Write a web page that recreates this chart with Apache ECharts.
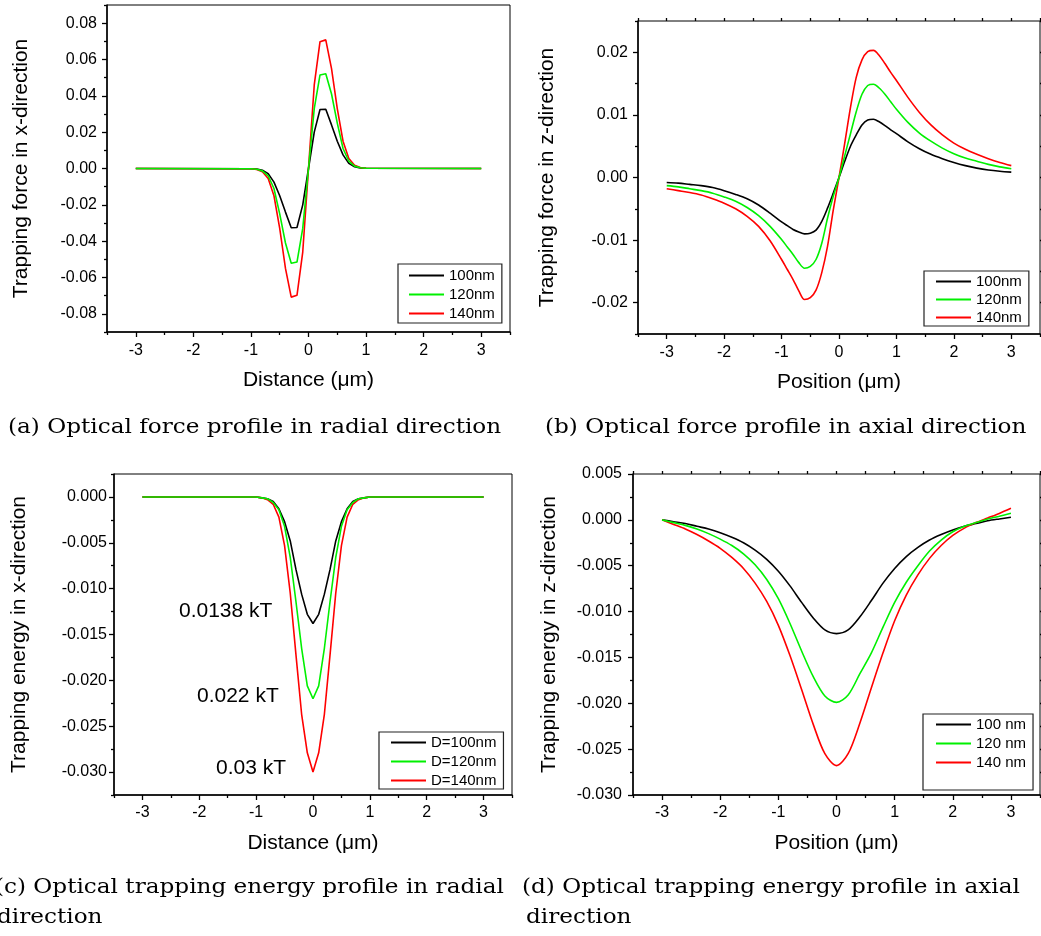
<!DOCTYPE html>
<html>
<head>
<meta charset="utf-8">
<script src="https://cdn.jsdelivr.net/npm/echarts@6/dist/echarts.min.js"></script>
<style>
  html, body { margin: 0; padding: 0; background: #fff; }
  #chart { width: 1041px; height: 936px; }
</style>
</head>
<body>
<div id="chart"></div>
<script>
// ---------- data ----------
// radial profiles, sampled every 0.1 um inside |x| <= 1 (zero outside)
const xRadial = [-3, -1.0, -0.9, -0.8, -0.7, -0.6, -0.5, -0.4, -0.3, -0.2, -0.1, 0,
                 0.1, 0.2, 0.3, 0.4, 0.5, 0.6, 0.7, 0.8, 0.9, 1.0, 3];

const forceX100 = [0, -0.0001, -0.0003, -0.0010, -0.0028, -0.0075, -0.015, -0.024, -0.0326, -0.0325, -0.020, 0,
                   0.020, 0.0325, 0.0326, 0.024, 0.015, 0.0075, 0.0028, 0.0010, 0.0003, 0.0001, 0];
const forceX120 = [0, -0.0001, -0.0004, -0.0013, -0.004, -0.011, -0.025, -0.041, -0.0522, -0.0515, -0.033, 0,
                   0.033, 0.0515, 0.0522, 0.041, 0.025, 0.011, 0.004, 0.0013, 0.0004, 0.0001, 0];
const forceX140 = [0, -0.0001, -0.0005, -0.0018, -0.0055, -0.015, -0.033, -0.055, -0.0708, -0.0698, -0.046, 0,
                   0.046, 0.0698, 0.0708, 0.055, 0.033, 0.015, 0.0055, 0.0018, 0.0005, 0.0001, 0];

const energyX100 = [0, 0, -0.0001, -0.0002, -0.0005, -0.0013, -0.0027, -0.0048, -0.0079, -0.0106, -0.0128, -0.0138,
                    -0.0128, -0.0106, -0.0079, -0.0048, -0.0027, -0.0013, -0.0005, -0.0002, -0.0001, 0, 0];
const energyX120 = [0, 0, -0.0001, -0.0002, -0.0006, -0.0014, -0.0032, -0.0066, -0.0114, -0.0165, -0.0206, -0.022,
                    -0.0206, -0.0165, -0.0114, -0.0066, -0.0032, -0.0014, -0.0006, -0.0002, -0.0001, 0, 0];
const energyX140 = [0, 0, -0.0001, -0.0003, -0.0008, -0.0022, -0.0053, -0.0105, -0.0172, -0.0237, -0.0279, -0.030,
                    -0.0279, -0.0237, -0.0172, -0.0105, -0.0053, -0.0022, -0.0008, -0.0003, -0.0001, 0, 0];

// axial force, 0.2 um steps in the tails and 0.1 um steps around the focus
const xAxialForce = [-3.0, -2.8, -2.6, -2.4, -2.2, -2.0, -1.8, -1.6, -1.4, -1.2,
                     -1.0, -0.9, -0.8, -0.7, -0.6, -0.5, -0.4, -0.3, -0.2, -0.1, 0,
                     0.1, 0.2, 0.3, 0.4, 0.5, 0.6, 0.7, 0.8, 0.9, 1.0,
                     1.2, 1.4, 1.6, 1.8, 2.0, 2.2, 2.4, 2.6, 2.8, 3.0];

const forceZ100 = [-0.0008, -0.0009, -0.0011, -0.0013, -0.0016, -0.0021, -0.0027, -0.0034, -0.0044, -0.0057,
                   -0.0071, -0.0077, -0.0083, -0.0087, -0.0090, -0.0089, -0.0084, -0.0070, -0.0049, -0.0025, 0,
                   0.0026, 0.0050, 0.0068, 0.0084, 0.0092, 0.0093, 0.0089, 0.0083, 0.0076, 0.0070,
                   0.0057, 0.0046, 0.0037, 0.0030, 0.0024, 0.0019, 0.0015, 0.0012, 0.0010, 0.00086];
const forceZ120 = [-0.0013, -0.0015, -0.0018, -0.0021, -0.0025, -0.0031, -0.0038, -0.0048, -0.0061, -0.0078,
                   -0.0099, -0.0111, -0.0123, -0.0136, -0.0145, -0.0142, -0.0131, -0.0105, -0.0065, -0.0030, 0,
                   0.0035, 0.0070, 0.0105, 0.0133, 0.0147, 0.0149, 0.0143, 0.0133, 0.0121, 0.0109,
                   0.0088, 0.0071, 0.0058, 0.0047, 0.0038, 0.0031, 0.0026, 0.0021, 0.0017, 0.0014];
const forceZ140 = [-0.0018, -0.0021, -0.0024, -0.0028, -0.0034, -0.0041, -0.0050, -0.0062, -0.0078, -0.0101,
                   -0.0131, -0.0147, -0.0163, -0.0181, -0.0195, -0.0192, -0.0180, -0.0152, -0.0110, -0.0052, 0,
                   0.0055, 0.0112, 0.0160, 0.0188, 0.0201, 0.0203, 0.0195, 0.0182, 0.0168, 0.0155,
                   0.0128, 0.0104, 0.0084, 0.0068, 0.0055, 0.0045, 0.0037, 0.0030, 0.0024, 0.0019];

// axial energy, 0.2 um steps
const xAxialEnergy = [-3.0, -2.8, -2.6, -2.4, -2.2, -2.0, -1.8, -1.6, -1.4, -1.2, -1.0, -0.8, -0.6, -0.4, -0.2, 0,
                      0.2, 0.4, 0.6, 0.8, 1.0, 1.2, 1.4, 1.6, 1.8, 2.0, 2.2, 2.4, 2.6, 2.8, 3.0];

const energyZ100 = [0, -0.0002, -0.0004, -0.0007, -0.0010, -0.0014, -0.0019, -0.0025, -0.0033, -0.0043, -0.0056, -0.0072, -0.0090, -0.0107, -0.0120, -0.0124,
                    -0.0120, -0.0106, -0.0088, -0.0069, -0.0053, -0.0040, -0.0030, -0.0022, -0.0016, -0.0011, -0.0007, -0.0004, -0.0001, 0.0001, 0.00028];
const energyZ120 = [0, -0.0003, -0.0006, -0.0010, -0.0015, -0.0021, -0.0028, -0.0037, -0.0049, -0.0065, -0.0086, -0.0113, -0.0143, -0.0171, -0.0192, -0.0199,
                    -0.0191, -0.0168, -0.0145, -0.0117, -0.0090, -0.0068, -0.0050, -0.0034, -0.0022, -0.0013, -0.0007, -0.0003, 0.0001, 0.0004, 0.00072];
const energyZ140 = [0, -0.0005, -0.0010, -0.0016, -0.0023, -0.0031, -0.0041, -0.0053, -0.0069, -0.0089, -0.0115, -0.0148, -0.0185, -0.0223, -0.0255, -0.0268,
                    -0.0255, -0.0222, -0.0183, -0.0145, -0.0110, -0.0082, -0.0060, -0.0042, -0.0028, -0.0017, -0.0009, -0.0003, 0.0002, 0.0007, 0.00126];

// tick positions
const xMajorTicks = [-3, -2, -1, 0, 1, 2, 3];
const xMinorTicks = [-3.5, -2.5, -1.5, -0.5, 0.5, 1.5, 2.5, 3.5];
const yMajorA = [-0.08, -0.06, -0.04, -0.02, 0, 0.02, 0.04, 0.06, 0.08];
const yMinorA = [-0.09, -0.07, -0.05, -0.03, -0.01, 0.01, 0.03, 0.05, 0.07, 0.09];
const yMajorB = [-0.02, -0.01, 0, 0.01, 0.02];
const yMinorB = [-0.025, -0.015, -0.005, 0.005, 0.015, 0.025];
const yMajorC = [-0.030, -0.025, -0.020, -0.015, -0.010, -0.005, 0];
const yMinorC = [-0.0325, -0.0275, -0.0225, -0.0175, -0.0125, -0.0075, -0.0025, 0.0025];
const yMajorD = [-0.030, -0.025, -0.020, -0.015, -0.010, -0.005, 0, 0.005];
const yMinorD = [-0.0275, -0.0225, -0.0175, -0.0125, -0.0075, -0.0025, 0.0025];

// ---------- styling ----------
const SANS = '"Liberation Sans", Arial, sans-serif';
const SERIF = '"DejaVu Serif", serif';
const COLORS = ['#000000', '#00f000', '#ff0000'];
const Z = [2, 4, 3];

const grids = [], xAxes = [], yAxes = [], series = [], legends = [];

function zip(xs, ys) { return xs.map((x, i) => [x, ys[i]]); }

function addPanel(p) {
  const g = grids.length;
  grids.push({
    left: p.box[0], top: p.box[1], width: p.box[2], height: p.box[3],
    show: true, borderColor: '#000', borderWidth: 1, backgroundColor: '#fff',
    outerBoundsMode: 'none', containLabel: false
  });
  const xi = xAxes.length, yi = yAxes.length;
  const lineStyle = { color: '#000', width: 1.5 };
  const tickStyle = { color: '#000', width: 1.3 };
  // main x axis with labels and long ticks
  xAxes.push({
    type: 'value', gridIndex: g, position: 'bottom', min: -3.5, max: 3.5, interval: 0.5,
    name: p.xName, nameLocation: 'middle', nameGap: p.xGap,
    nameTextStyle: { fontFamily: SANS, fontSize: 21, color: '#000' },
    axisLine: { show: true, onZero: false, lineStyle },
    axisTick: { show: true, inside: false, length: 5, customValues: xMajorTicks, lineStyle: tickStyle },
    axisLabel: { show: true, customValues: xMajorTicks, margin: p.xMargin, fontFamily: SANS, fontSize: 16, color: '#000',
                 formatter: v => String(v) },
    splitLine: { show: false }
  });
  // short half-step ticks
  xAxes.push({
    type: 'value', gridIndex: g, position: 'bottom', min: -3.5, max: 3.5, interval: 0.5,
    axisLine: { show: false, onZero: false },
    axisTick: { show: true, inside: false, length: 3, customValues: xMinorTicks, lineStyle: tickStyle },
    axisLabel: { show: false }, splitLine: { show: false }
  });
  yAxes.push({
    type: 'value', gridIndex: g, position: 'left', min: p.yMin, max: p.yMax, interval: p.yStep,
    name: p.yName, nameLocation: 'middle', nameGap: p.yGap,
    nameTextStyle: { fontFamily: SANS, fontSize: 21, color: '#000' },
    axisLine: { show: true, onZero: false, lineStyle },
    axisTick: { show: true, inside: false, length: 5, customValues: p.yMajor, lineStyle: tickStyle },
    axisLabel: { show: true, customValues: p.yMajor, margin: p.yMargin, fontFamily: SANS, fontSize: 16, color: '#000',
                 formatter: v => v.toFixed(p.digits) },
    splitLine: { show: false }
  });
  yAxes.push({
    type: 'value', gridIndex: g, position: 'left', min: p.yMin, max: p.yMax, interval: p.yStep,
    axisLine: { show: false, onZero: false },
    axisTick: { show: true, inside: false, length: 3, customValues: p.yMinor, lineStyle: tickStyle },
    axisLabel: { show: false }, splitLine: { show: false }
  });
  if (p.mirror) {
    xAxes.push({
      type: 'value', gridIndex: g, position: 'top', min: -3.5, max: 3.5, interval: 0.5,
      axisLine: { show: false, onZero: false },
      axisTick: { show: true, inside: false, length: 3, customValues: xMajorTicks.concat(xMinorTicks), lineStyle: tickStyle },
      axisLabel: { show: false }, splitLine: { show: false }
    });
    yAxes.push({
      type: 'value', gridIndex: g, position: 'right', min: p.yMin, max: p.yMax, interval: p.yStep,
      axisLine: { show: false, onZero: false },
      axisTick: { show: true, inside: false, length: 3, customValues: p.yMajor.concat(p.yMinor), lineStyle: tickStyle },
      axisLabel: { show: false }, splitLine: { show: false }
    });
  }
  p.curves.forEach((ys, k) => {
    series.push({
      type: 'line', name: p.names[k], xAxisIndex: xi, yAxisIndex: yi,
      data: zip(p.x, ys), symbol: 'none', showSymbol: false, smooth: p.smooth, z: Z[k],
      lineStyle: { color: COLORS[k], width: 1.6 }, itemStyle: { color: COLORS[k] },
      animation: false
    });
  });
  legends.push({
    data: p.names, orient: 'vertical', left: p.legend.left, top: p.legend.top,
    padding: p.legend.padding, itemGap: p.legend.gap,
    icon: 'rect', itemWidth: 35, itemHeight: 2,
    borderColor: '#222', borderWidth: 1.2, borderRadius: 0, backgroundColor: '#fff',
    textStyle: { fontFamily: SANS, fontSize: 15, color: '#000', lineHeight: 15 },
    selectedMode: false
  });
}

addPanel({
  box: [107, 5, 403, 327], x: xRadial, curves: [forceX100, forceX120, forceX140],
  names: ['100nm', '120nm', '140nm'], smooth: false, mirror: false,
  yMin: -0.09, yMax: 0.09, yStep: 0.01, yMajor: yMajorA, yMinor: yMinorA, digits: 2,
  xName: 'Distance (\u03bcm)', yName: 'Trapping force in x-direction',
  xGap: 38, yGap: 75, xMargin: 11, yMargin: 10,
  legend: { left: 398, top: 264, padding: [4, 7, 2, 11], gap: 4 }
});
addPanel({
  box: [638, 21, 402, 313], x: xAxialForce, curves: [forceZ100, forceZ120, forceZ140],
  names: ['100nm', '120nm', '140nm'], smooth: 0.3, mirror: true,
  yMin: -0.025, yMax: 0.025, yStep: 0.005, yMajor: yMajorB, yMinor: yMinorB, digits: 2,
  xName: 'Position (\u03bcm)', yName: 'Trapping force in z-direction',
  xGap: 38, yGap: 80, xMargin: 11, yMargin: 10,
  legend: { left: 924, top: 271, padding: [3, 7, 1, 12], gap: 3 }
});
addPanel({
  box: [114, 474, 398, 321], x: xRadial, curves: [energyX100, energyX120, energyX140],
  names: ['D=100nm', 'D=120nm', 'D=140nm'], smooth: false, mirror: false,
  yMin: -0.0325, yMax: 0.0025, yStep: 0.0025, yMajor: yMajorC, yMinor: yMinorC, digits: 3,
  xName: 'Distance (\u03bcm)', yName: 'Trapping energy in x-direction',
  xGap: 38, yGap: 84, xMargin: 10, yMargin: 7,
  legend: { left: 379, top: 732, padding: [3, 7, 1, 12], gap: 4 }
});
addPanel({
  box: [633, 474, 407, 321], x: xAxialEnergy, curves: [energyZ100, energyZ120, energyZ140],
  names: ['100 nm', '120 nm', '140 nm'], smooth: 0.3, mirror: true,
  yMin: -0.030, yMax: 0.005, yStep: 0.005, yMajor: yMajorD, yMinor: yMinorD, digits: 3,
  xName: 'Position (\u03bcm)', yName: 'Trapping energy in z-direction',
  xGap: 38, yGap: 73, xMargin: 10, yMargin: 11,
  legend: { left: 923, top: 714, padding: [3, 7, 20, 13], gap: 4 }
});

// depth annotations for the radial energy wells
function depthLabel(ys) { return Math.abs(Math.min.apply(null, ys)) + ' kT'; }
function txt(text, x, y, font, sx) {
  return { type: 'text', x: x, y: y, z: 100, silent: true, scaleX: sx || 1,
           style: { text: text, font: font, fill: '#000', align: 'left', verticalAlign: 'middle' } };
}
const annFont = '21px ' + SANS;
const capFont = '20px ' + SERIF;
const CAP_SX = 1.157;

const graphics = [
  txt(depthLabel(energyX100), 179, 611, annFont),
  txt(depthLabel(energyX120), 197, 696, annFont),
  txt(depthLabel(energyX140), 216, 768, annFont),
  txt('(a) Optical force profile in radial direction', 8, 428, capFont, CAP_SX),
  txt('(b) Optical force profile in axial direction', 545, 428, capFont, CAP_SX),
  txt('(c) Optical trapping energy profile in radial', -5, 888, capFont, CAP_SX),
  txt('direction', -3, 918, capFont, CAP_SX),
  txt('(d) Optical trapping energy profile in axial', 522, 888, capFont, CAP_SX),
  txt('direction', 526, 918, capFont, CAP_SX)
];

const chart = echarts.init(document.getElementById('chart'), null, { renderer: 'canvas' });
chart.setOption({
  animation: false,
  backgroundColor: '#fff',
  grid: grids, xAxis: xAxes, yAxis: yAxes, series: series, legend: legends,
  graphic: graphics
});
</script>
</body>
</html>
